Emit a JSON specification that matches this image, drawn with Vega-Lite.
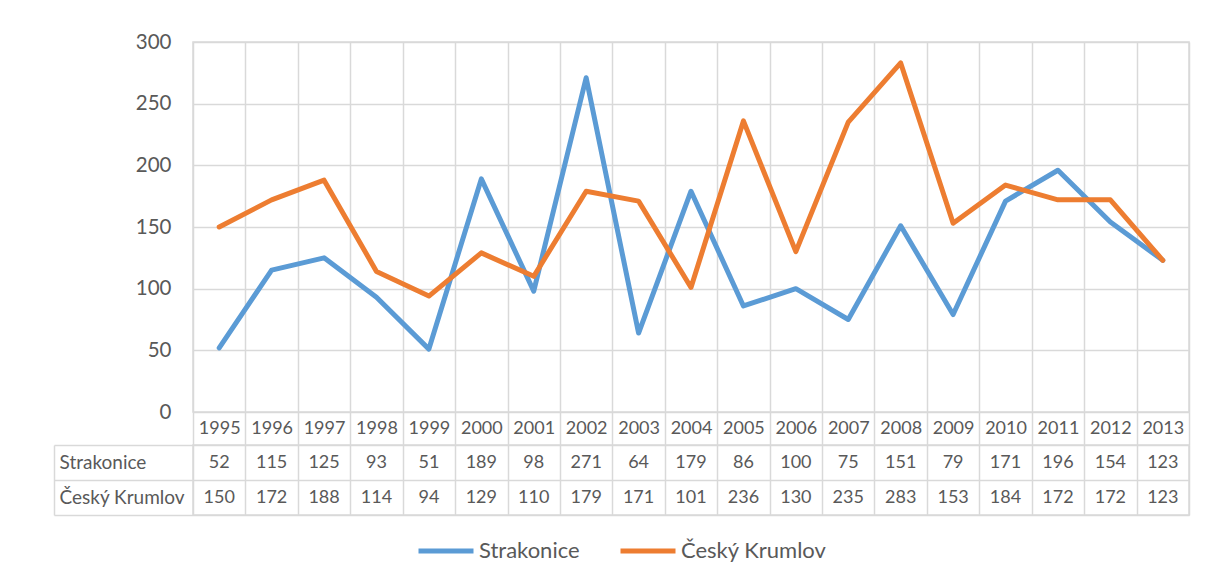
{
  "$schema": "https://vega.github.io/schema/vega-lite/v6.json",
  "padding": {"left": 52, "top": 31, "right": 0, "bottom": 0},
  "autosize": {"type": "pad"},
  "background": "white",
  "bounds": "flush",
  "spacing": 33,
  "config": {
    "font": "Lato",
    "view": {"stroke": "#D9D9D9", "strokeWidth": 1.5}
  },
  "datasets": {
    "d": [
      {"year": "1995", "series": "Strakonice", "value": 52},
      {"year": "1996", "series": "Strakonice", "value": 115},
      {"year": "1997", "series": "Strakonice", "value": 125},
      {"year": "1998", "series": "Strakonice", "value": 93},
      {"year": "1999", "series": "Strakonice", "value": 51},
      {"year": "2000", "series": "Strakonice", "value": 189},
      {"year": "2001", "series": "Strakonice", "value": 98},
      {"year": "2002", "series": "Strakonice", "value": 271},
      {"year": "2003", "series": "Strakonice", "value": 64},
      {"year": "2004", "series": "Strakonice", "value": 179},
      {"year": "2005", "series": "Strakonice", "value": 86},
      {"year": "2006", "series": "Strakonice", "value": 100},
      {"year": "2007", "series": "Strakonice", "value": 75},
      {"year": "2008", "series": "Strakonice", "value": 151},
      {"year": "2009", "series": "Strakonice", "value": 79},
      {"year": "2010", "series": "Strakonice", "value": 171},
      {"year": "2011", "series": "Strakonice", "value": 196},
      {"year": "2012", "series": "Strakonice", "value": 154},
      {"year": "2013", "series": "Strakonice", "value": 123},
      {"year": "1995", "series": "Český Krumlov", "value": 150},
      {"year": "1996", "series": "Český Krumlov", "value": 172},
      {"year": "1997", "series": "Český Krumlov", "value": 188},
      {"year": "1998", "series": "Český Krumlov", "value": 114},
      {"year": "1999", "series": "Český Krumlov", "value": 94},
      {"year": "2000", "series": "Český Krumlov", "value": 129},
      {"year": "2001", "series": "Český Krumlov", "value": 110},
      {"year": "2002", "series": "Český Krumlov", "value": 179},
      {"year": "2003", "series": "Český Krumlov", "value": 171},
      {"year": "2004", "series": "Český Krumlov", "value": 101},
      {"year": "2005", "series": "Český Krumlov", "value": 236},
      {"year": "2006", "series": "Český Krumlov", "value": 130},
      {"year": "2007", "series": "Český Krumlov", "value": 235},
      {"year": "2008", "series": "Český Krumlov", "value": 283},
      {"year": "2009", "series": "Český Krumlov", "value": 153},
      {"year": "2010", "series": "Český Krumlov", "value": 184},
      {"year": "2011", "series": "Český Krumlov", "value": 172},
      {"year": "2012", "series": "Český Krumlov", "value": 172},
      {"year": "2013", "series": "Český Krumlov", "value": 123}
    ]
  },
  "resolve": {"scale": {"x": "independent", "y": "independent"}, "axis": {"x": "independent", "y": "independent"}},
  "vconcat": [
    {
      "width": 996,
      "height": 370,
      "data": {"name": "d"},
      "mark": {"type": "line", "strokeWidth": 5, "strokeCap": "round", "strokeJoin": "round"},
      "encoding": {
        "x": {
          "field": "year", "type": "ordinal", "bandPosition": 0.5,
          "scale": {"type": "band", "paddingInner": 0, "paddingOuter": 0},
          "axis": {
            "title": null, "labelAngle": 0, "grid": true, "gridColor": "#D9D9D9", "gridWidth": 1.5,
            "tickBand": "extent", "ticks": true, "tickSize": 33, "tickColor": "#D9D9D9", "tickWidth": 1.5,
            "domain": false, "labelPadding": -16.5, "labelBaseline": "middle",
            "labelFontSize": 18, "labelColor": "#595959"
          }
        },
        "y": {
          "field": "value", "type": "quantitative",
          "scale": {"domain": [0, 300], "nice": false},
          "axis": {
            "title": null, "values": [0, 50, 100, 150, 200, 250, 300],
            "grid": true, "gridColor": "#D9D9D9", "gridWidth": 1.5, "domain": false, "ticks": false,
            "labelPadding": 22, "labelFontSize": 20.5, "labelColor": "#595959"
          }
        },
        "color": {
          "field": "series", "type": "nominal",
          "scale": {"domain": ["Strakonice", "Český Krumlov"], "range": ["#5B9BD5", "#ED7D31"]},
          "legend": {
            "title": null, "orient": "none", "legendX": 223, "legendY": 479,
            "direction": "horizontal", "symbolType": "stroke", "symbolStrokeWidth": 5,
            "symbolSize": 3025, "labelFontSize": 22, "labelColor": "#595959",
            "columnPadding": 30, "labelOffset": 3
          }
        }
      }
    },
    {
      "width": 996,
      "height": 70,
      "data": {"name": "d"},
      "mark": {"type": "text", "fontSize": 18, "color": "#595959", "baseline": "middle", "align": "center"},
      "encoding": {
        "x": {
          "field": "year", "type": "ordinal", "bandPosition": 0.5,
          "scale": {"type": "band", "paddingInner": 0, "paddingOuter": 0},
          "axis": {"title": null, "labels": false, "ticks": false, "domain": false, "grid": true, "tickBand": "extent", "gridColor": "#D9D9D9", "gridWidth": 1.5}
        },
        "y": {
          "field": "series", "type": "nominal", "bandPosition": 0.5,
          "sort": ["Strakonice", "Český Krumlov"],
          "scale": {"type": "band", "paddingInner": 0, "paddingOuter": 0},
          "axis": {
            "title": null, "offset": 139, "domain": true, "domainColor": "#D9D9D9", "domainWidth": 1.5,
            "ticks": true, "tickBand": "extent", "tickSize": -1135, "tickColor": "#D9D9D9", "tickWidth": 1.5,
            "grid": false, "labelAlign": "left", "labelPadding": 1130,
            "labelFontSize": 19, "labelColor": "#595959", "labelBaseline": "middle"
          }
        },
        "text": {"field": "value", "type": "quantitative"}
      }
    }
  ]
}
